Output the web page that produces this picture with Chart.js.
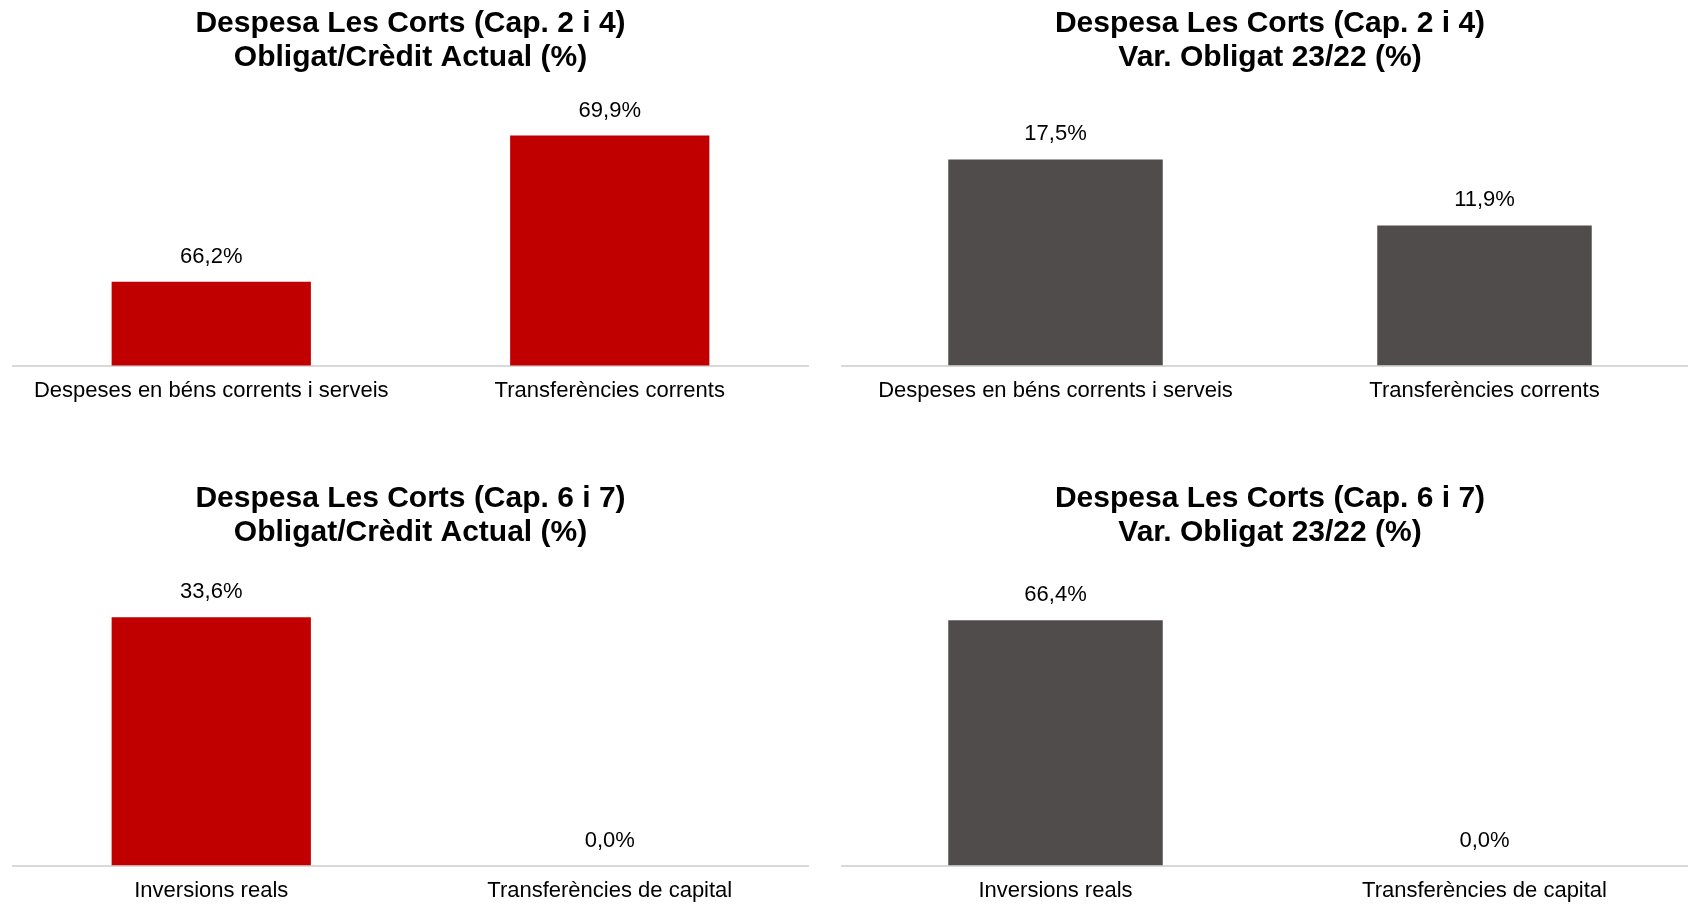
<!DOCTYPE html>
<html>
<head>
<meta charset="utf-8">
<script src="https://cdn.jsdelivr.net/npm/chart.js@4.4.0/dist/chart.umd.min.js"></script>
<style>
  html, body { margin: 0; padding: 0; background: #fff; overflow: hidden; width: 1688px; height: 904px; }
  .panel { position: absolute; }
</style>
</head>
<body>
<div class="panel" style="left:12px;top:0px;width:797px;height:416px"><canvas id="c1"></canvas></div>
<div class="panel" style="left:841px;top:0px;width:858px;height:416px"><canvas id="c2"></canvas></div>
<div class="panel" style="left:12px;top:452px;width:797px;height:464px"><canvas id="c3"></canvas></div>
<div class="panel" style="left:841px;top:452px;width:858px;height:464px"><canvas id="c4"></canvas></div>
<script>
// categories
var capCorrents = ['Despeses en béns corrents i serveis', 'Transferències corrents'];
var capCapital = ['Inversions reals', 'Transferències de capital'];

// valors (%)
var obligatCorrents = [66.2, 69.9];
var varCorrents = [17.5, 11.9];
var obligatCapital = [33.6, 0.0];
var varCapital = [66.4, 0.0];

// titols
var titol1 = ['Despesa Les Corts (Cap. 2 i 4)', 'Obligat/Crèdit Actual (%)'];
var titol2 = ['Despesa Les Corts (Cap. 2 i 4)', 'Var. Obligat 23/22 (%)'];
var titol3 = ['Despesa Les Corts (Cap. 6 i 7)', 'Obligat/Crèdit Actual (%)'];
var titol4 = ['Despesa Les Corts (Cap. 6 i 7)', 'Var. Obligat 23/22 (%)'];

var vermell = '#C00000';
var gris = '#504C4C';
var font = "'Liberation Sans', Arial, sans-serif";

// escriu el valor damunt de cada barra
var etiquetes = {
  id: 'etiquetes',
  afterDatasetsDraw: function (chart) {
    var ctx = chart.ctx;
    var meta = chart.getDatasetMeta(0);
    var dades = chart.data.datasets[0].data;
    ctx.save();
    ctx.font = '22px ' + font;
    ctx.fillStyle = '#000';
    ctx.textAlign = 'center';
    ctx.textBaseline = 'middle';
    meta.data.forEach(function (bar, i) {
      var txt = dades[i].toFixed(1).replace('.', ',') + '%';
      ctx.fillText(txt, bar.x, bar.y - 25);
    });
    ctx.restore();
  }
};

function ferGrafic(id, labels, valors, color, titol, ymin, ymax, padTop, padBottom) {
  return new Chart(document.getElementById(id), {
    type: 'bar',
    data: {
      labels: labels,
      datasets: [{
        data: valors,
        backgroundColor: color,
        barPercentage: 0.5,
        categoryPercentage: 1.0
      }]
    },
    options: {
      responsive: true,
      maintainAspectRatio: false,
      animation: false,
      layout: { padding: 0 },
      plugins: {
        legend: { display: false },
        tooltip: { enabled: false },
        title: {
          display: true,
          text: titol,
          color: '#000',
          font: { family: font, size: 30, weight: 'bold', lineHeight: 1.133 },
          padding: { top: padTop, bottom: padBottom }
        }
      },
      scales: {
        x: {
          grid: { display: false, drawTicks: false },
          border: { display: true, color: '#D9D9D9', width: 2 },
          ticks: { color: '#000', font: { family: font, size: 22 }, padding: 12, maxRotation: 0, autoSkip: false }
        },
        y: {
          display: false,
          min: ymin,
          max: ymax
        }
      }
    },
    plugins: [etiquetes]
  });
}

ferGrafic('c1', capCorrents, obligatCorrents, vermell, titol1, 64.08, 70.04, 7, 55);
ferGrafic('c2', capCorrents, varCorrents, gris, titol2, 0, 20, 7, 55);
ferGrafic('c3', capCapital, obligatCapital, vermell, titol3, 0, 40, 30, 20);
ferGrafic('c4', capCapital, varCapital, gris, titol4, 0, 80, 30, 20);
</script>
</body>
</html>
